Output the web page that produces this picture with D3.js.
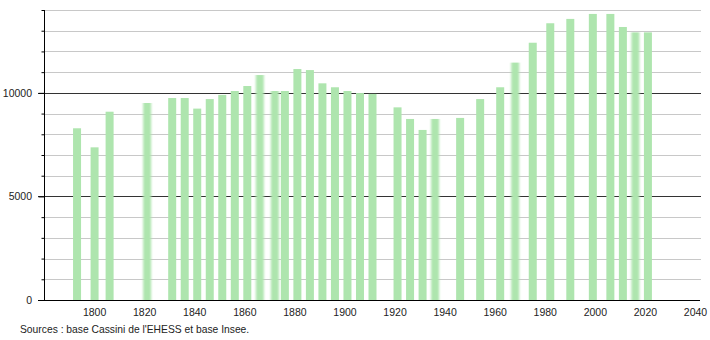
<!DOCTYPE html>
<html>
<head>
<meta charset="utf-8">
<script src="https://cdn.jsdelivr.net/npm/d3@7"></script>
<style>
  body { margin: 0; background: #fff; }
  text { font-family: "Liberation Sans", Arial, sans-serif; }
</style>
</head>
<body>
<div id="chart"></div>
<script>
var width = 710;
var height = 340;

// census years and population
var years = [1793, 1800, 1806, 1821, 1831, 1836, 1841, 1846, 1851, 1856, 1861, 1866, 1872, 1876,
             1881, 1886, 1891, 1896, 1901, 1906, 1911, 1921, 1926, 1931, 1936, 1946, 1954, 1962,
             1968, 1975, 1982, 1990, 1999, 2006, 2011, 2016, 2021];
var population = [8290, 7370, 9090, 9510, 9750, 9750, 9240, 9700, 9900, 10090, 10330, 10860, 10090, 10090,
                  11150, 11100, 10460, 10270, 10090, 9990, 9950, 9300, 8740, 8210, 8740, 8790, 9700, 10270,
                  11460, 12420, 13360, 13570, 13810, 13810, 13180, 12920, 12920];
var xTicks = [1800, 1820, 1840, 1860, 1880, 1900, 1920, 1940, 1960, 1980, 2000, 2020, 2040];
var yTicks = [0, 5000, 10000];
var source = "Sources : base Cassini de l'EHESS et base Insee.";

// bars that come out soft in the original picture
var fuzzy = [1821, 1866, 1872, 1936, 1968, 2016];

var svg = d3.select("#chart").append("svg").attr('width', width).attr('height', height);

var x = d3.scaleLinear().domain([1780, 2042]).range([44, 700]);
var y = d3.scaleLinear().domain([0, 14000]).range([300, 10]);

svg.append('defs').append('filter')
   .attr('id', 'soft').attr('x', '-50%').attr('width', '200%')
   .append('feGaussianBlur').attr('stdDeviation', '1.1 0');

// grid lines every 1000, darker every 5000
var grid = d3.range(1000, 14001, 1000);
svg.append('g').selectAll('line').data(grid).enter().append('line')
   .attr('x1', d => d % 5000 == 0 ? 38 : 44).attr('x2', 701)
   .attr('y1', d => Math.round(y(d)) + 0.5).attr('y2', d => Math.round(y(d)) + 0.5)
   .attr('stroke', d => d % 5000 == 0 ? '#333' : '#c8c8c8').attr('stroke-width', 1);

// bars
svg.append('g').selectAll('rect').data(years).enter().append('rect')
   .attr('x', (d) => x(d) - 3.5)
   .attr('width', 8)
   .attr('y', (d, i) => y(population[i]))
   .attr('height', (d, i) => y(0) - y(population[i]))
   .attr('fill', '#aee5ae')
   .attr('filter', d => fuzzy.indexOf(d) >= 0 ? 'url(#soft)' : null);

// y axis
var yAxis = d3.axisLeft(y).tickValues(grid.concat([0])).tickSize(3).tickFormat('');
var gy = svg.append('g').attr('transform', 'translate(44.5,0)').call(yAxis);
gy.select('.domain').remove();
gy.append('line').attr('y1', 10).attr('y2', 300).attr('stroke', '#000');
gy.selectAll('.tick line').attr('stroke', '#000')
  .attr('x2', d => d % 5000 == 0 ? -6 : -3);

svg.append('g').selectAll('text').data(yTicks).enter().append('text')
   .attr('x', 32).attr('y', d => y(d) + 4)
   .attr('text-anchor', 'end').attr('font-size', '10.5px').attr('fill', '#222')
   .text(d => d);

// x axis
var xAxis = d3.axisBottom(x).tickValues(xTicks).tickSize(0).tickFormat(d => d);
var gx = svg.append('g').attr('transform', 'translate(0,300.5)').call(xAxis);
gx.select('.domain').remove();
gx.append('line').attr('x1', 38).attr('x2', 700).attr('stroke', '#000');
gx.selectAll('text').attr('font-size', '10.5px').attr('fill', '#222')
  .attr('font-family', '"Liberation Sans", Arial, sans-serif').attr('dy', '1.2em');

svg.append('text').attr('x', 20).attr('y', 333)
   .attr('font-size', '10.3px').attr('fill', '#222').text(source);
</script>
</body>
</html>
